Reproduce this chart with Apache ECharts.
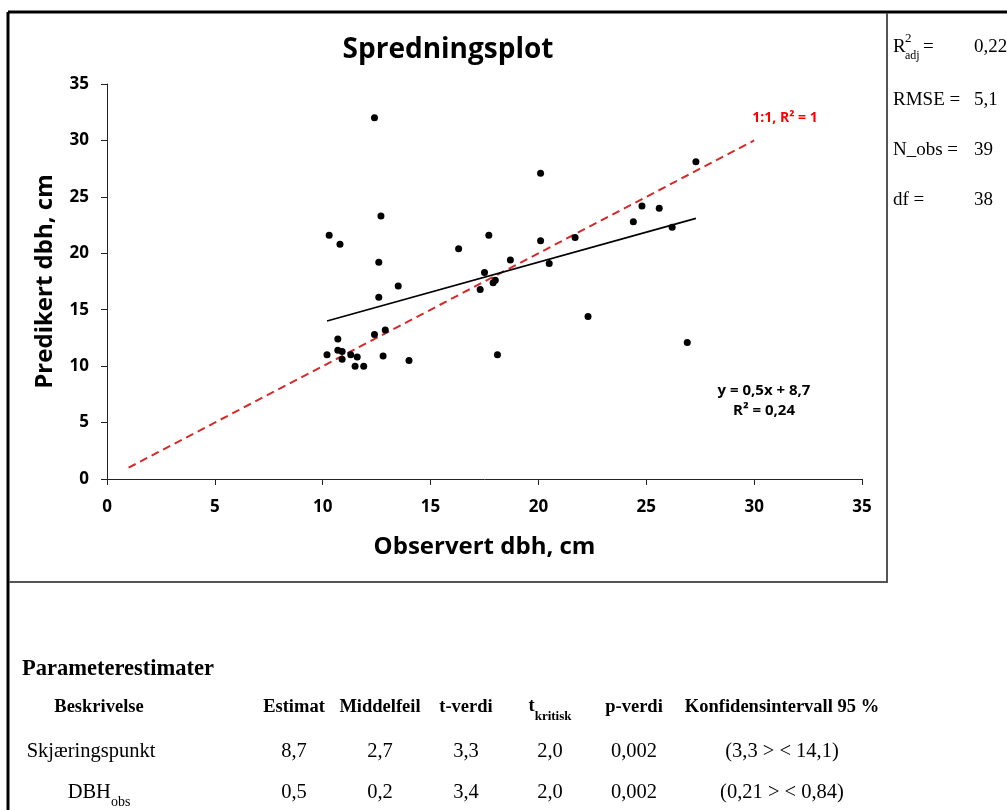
<!DOCTYPE html>
<html>
<head>
<meta charset="utf-8">
<script src="https://cdn.jsdelivr.net/npm/echarts@6/dist/echarts.min.js"></script>
<style>
  html, body { margin: 0; padding: 0; background: #fff; }
  #chart { width: 1007px; height: 810px; }
</style>
</head>
<body>
<div id="chart"></div>
<script>
// observerte og predikerte dbh (cm), lest av figuren
var obsDbh = [12.4, 20.1, 27.3, 12.7, 10.3, 10.8, 12.6, 16.3, 17.7, 20.1, 21.7, 24.4, 24.8, 25.6, 26.2, 18.7, 20.5, 17.5, 18.0, 17.9,
  17.3, 13.5, 12.6, 22.3, 12.9, 12.4, 10.7, 10.7, 10.9, 11.3, 10.2, 10.9, 11.6, 12.8, 18.1, 11.5, 11.9, 14.0, 26.9]
var predDbh = [32.0, 27.1, 28.1, 23.3, 21.6, 20.8, 19.2, 20.4, 21.6, 21.1, 21.4, 22.8, 24.2, 24.0, 22.3, 19.4, 19.1, 18.3, 17.6, 17.4,
  16.8, 17.1, 16.1, 14.4, 13.2, 12.8, 12.4, 11.4, 11.3, 11.0, 11.0, 10.6, 10.8, 10.9, 11.0, 10.0, 10.0, 10.5, 12.1]

// trendlinje (y = 0,5x + 8,7) og 1:1-linje, endepunkter
var trendX = [10.2, 27.3]
var trendY = [14.0, 23.1]
var oneToOneX = [1, 30]
var oneToOneY = [1, 30]

var axisTicks = [0, 5, 10, 15, 20, 25, 30, 35]

// statistikk til høyre
var statLabels = ['RMSE =', 'N_obs =', 'df =']
var statValues = ['0,22', '5,1', '39', '38']

// parametertabell
var tableHeaders = ['Beskrivelse', 'Estimat', 'Middelfeil', 't-verdi', 'tkritisk', 'p-verdi', 'Konfidensintervall 95 %']
var rowIntercept = ['Skjæringspunkt', '8,7', '2,7', '3,3', '2,0', '0,002', '(3,3 > < 14,1)']
var rowSlope = ['DBHobs', '0,5', '0,2', '3,4', '2,0', '0,002', '(0,21 > < 0,84)']

var points = obsDbh.map(function (x, i) { return [x, predDbh[i]] })
var trendData = trendX.map(function (x, i) { return [x, trendY[i]] })
var oneData = oneToOneX.map(function (x, i) { return [x, oneToOneY[i]] })

var sans = '"Open Sans", "Noto Sans", sans-serif'
var serif = '"Liberation Serif", "DejaVu Serif", serif'

function txt(text, x, y, font, opts) {
  opts = opts || {}
  return {
    type: 'text',
    z: 100,
    style: {
      text: text, x: x, y: y, font: font,
      fill: opts.fill || '#000',
      align: opts.align || 'left', textAlign: opts.align || 'left',
      verticalAlign: 'middle', textVerticalAlign: 'middle',
      rich: opts.rich
    }
  }
}

var colX = [99, 294, 380, 466, 550, 634, 782]
var headFont = 'bold 18.5px ' + serif
var cellFont = '20.5px ' + serif
var statFont = '19px ' + serif

var graphics = [
  // rammer
  { type: 'line', shape: { x1: 8, y1: 12, x2: 8, y2: 810 }, style: { stroke: '#000', lineWidth: 3 } },
  { type: 'line', shape: { x1: 8, y1: 12, x2: 1007, y2: 12 }, style: { stroke: '#000', lineWidth: 3 } },
  { type: 'line', shape: { x1: 9, y1: 582, x2: 887, y2: 582 }, style: { stroke: '#555', lineWidth: 2 } },
  { type: 'line', shape: { x1: 887, y1: 13, x2: 887, y2: 583 }, style: { stroke: '#555', lineWidth: 2 } },

  // tekst i plottet
  txt('1:1, R² = 1', 785, 118, 'bold 14px ' + sans, { align: 'center', fill: '#ff0000' }),
  txt('y = 0,5x + 8,7', 764, 391, 'bold 15px ' + sans, { align: 'center' }),
  txt('R² = 0,24', 764, 411, 'bold 15px ' + sans, { align: 'center' }),

  // statistikk
  txt('R', 893, 47, statFont),
  txt('2', 905, 39, '13px ' + serif),
  txt('adj', 905, 56, '12px ' + serif),
  txt('=', 923, 47, statFont),
  txt(statValues[0], 974, 47, statFont),

  // tabell
  txt('Parameterestimater', 22, 669, 'bold 22.5px ' + serif)
]

statLabels.forEach(function (s, i) {
  graphics.push(txt(s, 893, 100 + i * 50, statFont))
  graphics.push(txt(statValues[i + 1], 974, 100 + i * 50, statFont))
})

tableHeaders.forEach(function (h, i) {
  if (h === 'tkritisk') {
    graphics.push(txt('{m|t}{s|kritisk}', colX[i], 710, headFont, {
      align: 'center',
      rich: { m: { font: headFont, verticalAlign: 'top', lineHeight: 26 }, s: { font: 'bold 13px ' + serif, verticalAlign: 'bottom', lineHeight: 26 } }
    }))
  } else {
    graphics.push(txt(h, colX[i], 707, headFont, { align: 'center' }))
  }
})

rowIntercept.forEach(function (v, i) {
  graphics.push(txt(v, i === 0 ? 91 : colX[i], 752, cellFont, { align: 'center' }))
})
rowSlope.forEach(function (v, i) {
  if (i === 0) {
    graphics.push(txt('{m|DBH}{s|obs}', colX[i], 796, cellFont, {
      align: 'center',
      rich: { m: { font: cellFont, verticalAlign: 'top', lineHeight: 27 }, s: { font: '14px ' + serif, verticalAlign: 'bottom', lineHeight: 27 } }
    }))
  } else {
    graphics.push(txt(v, colX[i], 793, cellFont, { align: 'center' }))
  }
})

var axisCommon = {
  type: 'value',
  min: axisTicks[0],
  max: axisTicks[axisTicks.length - 1],
  interval: axisTicks[1] - axisTicks[0],
  splitLine: { show: false },
  axisLine: { show: true, lineStyle: { color: '#222', width: 1 } },
  axisTick: { show: true, length: 6, lineStyle: { color: '#222' } },
  nameLocation: 'middle',
  nameTextStyle: { fontFamily: sans, fontWeight: 'bold', fontSize: 24, color: '#000' }
}

var option = {
  backgroundColor: '#fff',
  animation: false,
  title: {
    text: 'Spredningsplot',
    left: 443, top: 45,
    textAlign: 'center', textVerticalAlign: 'middle',
    textStyle: { fontFamily: sans, fontWeight: 'bold', fontSize: 28, color: '#000' }
  },
  grid: { left: 107, right: 145, top: 84, bottom: 331, containLabel: false },
  xAxis: Object.assign({}, axisCommon, {
    name: 'Observert dbh, cm',
    nameGap: 56,
    axisLabel: { fontFamily: sans, fontWeight: 'bold', fontSize: 17, color: '#000', margin: 20 }
  }),
  yAxis: Object.assign({}, axisCommon, {
    name: 'Predikert dbh, cm',
    nameGap: 50,
    axisLabel: { fontFamily: sans, fontWeight: 'bold', fontSize: 17, color: '#000', margin: 18 }
  }),
  series: [
    {
      type: 'line',
      data: oneData,
      symbol: 'none',
      z: 2,
      lineStyle: { color: '#d42a2a', width: 2, type: [8, 5] }
    },
    {
      type: 'line',
      data: trendData,
      symbol: 'none',
      z: 3,
      lineStyle: { color: '#000', width: 1.8 }
    },
    {
      type: 'scatter',
      data: points,
      symbolSize: 7,
      z: 4,
      itemStyle: { color: '#000', opacity: 1 }
    }
  ],
  graphic: graphics
}

var myChart = echarts.init(document.getElementById('chart'))
myChart.setOption(option)
</script>
</body>
</html>
